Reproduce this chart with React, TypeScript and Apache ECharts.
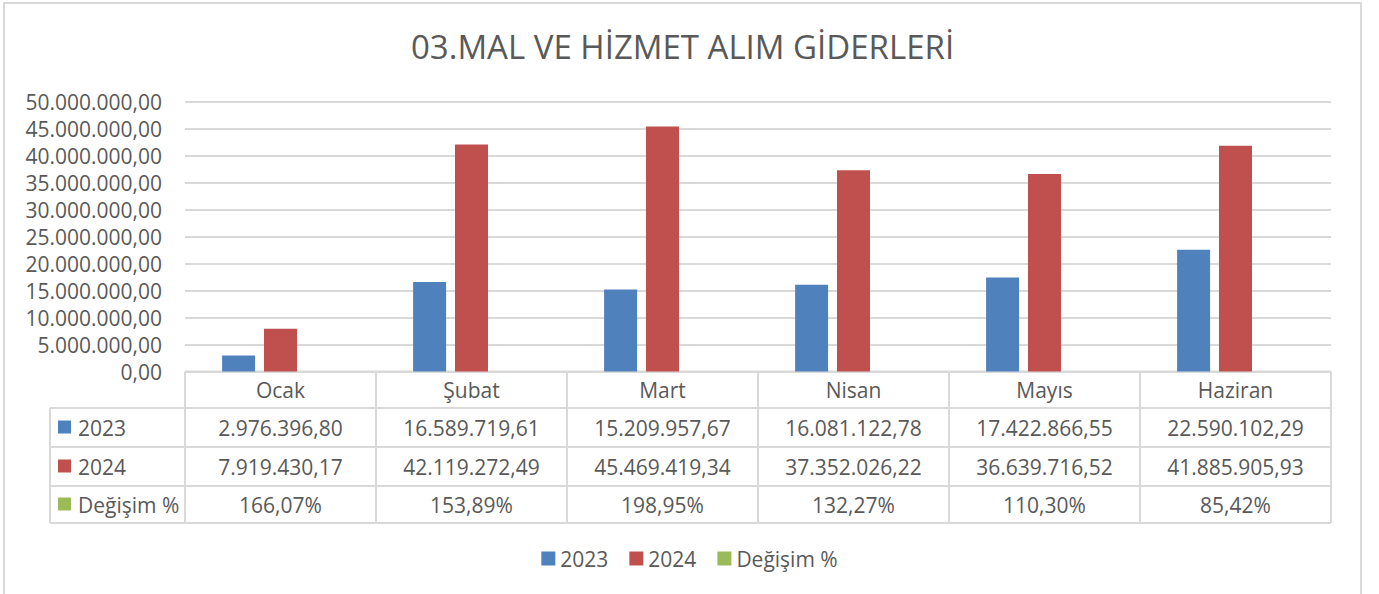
import React, { useEffect, useRef } from "react";
import * as echarts from "echarts";

const title = "03.MAL VE HİZMET ALIM GİDERLERİ";
const categories = ["Ocak", "Şubat", "Mart", "Nisan", "Mayıs", "Haziran"];
const seriesNames = ["2023", "2024", "Değişim %"];
const values2023 = [2976396.8, 16589719.61, 15209957.67, 16081122.78, 17422866.55, 22590102.29];
const values2024 = [7919430.17, 42119272.49, 45469419.34, 37352026.22, 36639716.52, 41885905.93];
const changePct = [166.07, 153.89, 198.95, 132.27, 110.3, 85.42];
const colors = ["#4f81bd", "#c0504d", "#9bbb59"];

const FONT = "'Open Sans', 'Noto Sans', sans-serif";
const TEXT = "#595959";
const LINE = "#d9d9d9";
const FS = 21;

function trNumber(v: number): string {
  const [i, d] = v.toFixed(2).split(".");
  return i.replace(/\B(?=(\d{3})+(?!\d))/g, ".") + "," + d;
}
function trPct(v: number): string {
  return v.toFixed(2).replace(".", ",") + "%";
}

export default function App() {
  const ref = useRef<HTMLDivElement>(null);
  useEffect(() => {
    document.body.style.margin = "0";
    if (!ref.current) return;
    const chart = echarts.init(ref.current, null, { renderer: "svg" });

    const W = 1379;
    const H = 594;
    const gLeft = 185;
    const gRight = 1331;
    const gTop = 102;
    const gBottom = 371.5;
    const colW = (gRight - gLeft) / categories.length;
    const labelLeft = 50;
    const rows = [408, 447, 486, 523];
    const tableRows = [
      values2023.map(trNumber),
      values2024.map(trNumber),
      changePct.map(trPct),
    ];

    const graphics: any[] = [];
    graphics.push({
      type: "rect",
      shape: { x: 4, y: 3, width: 1357, height: 620 },
      style: { fill: "none", stroke: LINE, lineWidth: 2 },
      silent: true,
    });
    for (const y of rows) {
      graphics.push({
        type: "line",
        shape: { x1: labelLeft, y1: y, x2: gRight, y2: y },
        style: { stroke: LINE, lineWidth: 2 },
      });
    }
    graphics.push({
      type: "line",
      shape: { x1: gLeft, y1: gBottom, x2: gRight, y2: gBottom },
      style: { stroke: LINE, lineWidth: 2 },
    });
    graphics.push({
      type: "line",
      shape: { x1: labelLeft, y1: rows[0], x2: labelLeft, y2: rows[3] },
      style: { stroke: LINE, lineWidth: 2 },
    });
    for (let i = 0; i <= categories.length; i++) {
      const x = gLeft + i * colW;
      graphics.push({
        type: "line",
        shape: { x1: x, y1: gBottom, x2: x, y2: rows[3] },
        style: { stroke: LINE, lineWidth: 2 },
      });
    }
    for (let r = 0; r < 3; r++) {
      const cy = (rows[r] + rows[r + 1]) / 2;
      graphics.push({
        type: "rect",
        shape: { x: 58, y: cy - 7, width: 13, height: 13 },
        style: { fill: colors[r] },
      });
      graphics.push({
        type: "text",
        x: 78,
        y: cy,
        style: {
          text: seriesNames[r],
          fill: TEXT,
          fontFamily: FONT,
          fontSize: FS,
          align: "left",
          verticalAlign: "middle",
        },
      });
      for (let c = 0; c < categories.length; c++) {
        graphics.push({
          type: "text",
          x: gLeft + (c + 0.5) * colW,
          y: cy,
          style: {
            text: tableRows[r][c],
            fill: TEXT,
            fontFamily: FONT,
            fontSize: FS,
            align: "center",
            verticalAlign: "middle",
          },
        });
      }
    }

    chart.setOption({
      animation: false,
      title: {
        text: title,
        left: 406,
        top: 25,
        textStyle: { color: TEXT, fontFamily: FONT, fontSize: 33, fontWeight: "normal" },
      },
      legend: {
        data: seriesNames,
        top: 543,
        left: "center",
        itemWidth: 14,
        itemHeight: 14,
        itemGap: 21,
        icon: "rect",
        textStyle: { color: TEXT, fontFamily: FONT, fontSize: FS },
      },
      grid: { left: gLeft, right: W - gRight, top: gTop, bottom: H - gBottom, containLabel: false },
      xAxis: {
        type: "category",
        data: categories,
        axisLine: { show: false },
        axisTick: { show: false },
        axisLabel: {
          color: TEXT,
          fontFamily: FONT,
          fontSize: FS,
          margin: 18,
          verticalAlign: "middle",
        },
      },
      yAxis: {
        type: "value",
        min: 0,
        max: 50000000,
        interval: 5000000,
        axisLine: { show: false },
        axisTick: { show: false },
        splitLine: { lineStyle: { color: LINE, width: 2 } },
        axisLabel: {
          color: TEXT,
          fontFamily: FONT,
          fontSize: FS,
          margin: 23,
          formatter: (v: number) => trNumber(v),
        },
      },
      series: [
        { name: seriesNames[0], type: "bar", data: values2023, barWidth: 33, barGap: "27%", itemStyle: { color: colors[0] } },
        { name: seriesNames[1], type: "bar", data: values2024, barWidth: 33, barGap: "27%", itemStyle: { color: colors[1] } },
        { name: seriesNames[2], type: "bar", data: changePct.map((v) => v / 100), barWidth: 33, barGap: "27%", itemStyle: { color: colors[2] } },
      ],
      graphic: graphics,
    });
    return () => chart.dispose();
  }, []);
  return <div ref={ref} style={{ width: 1379, height: 594 }} />;
}
